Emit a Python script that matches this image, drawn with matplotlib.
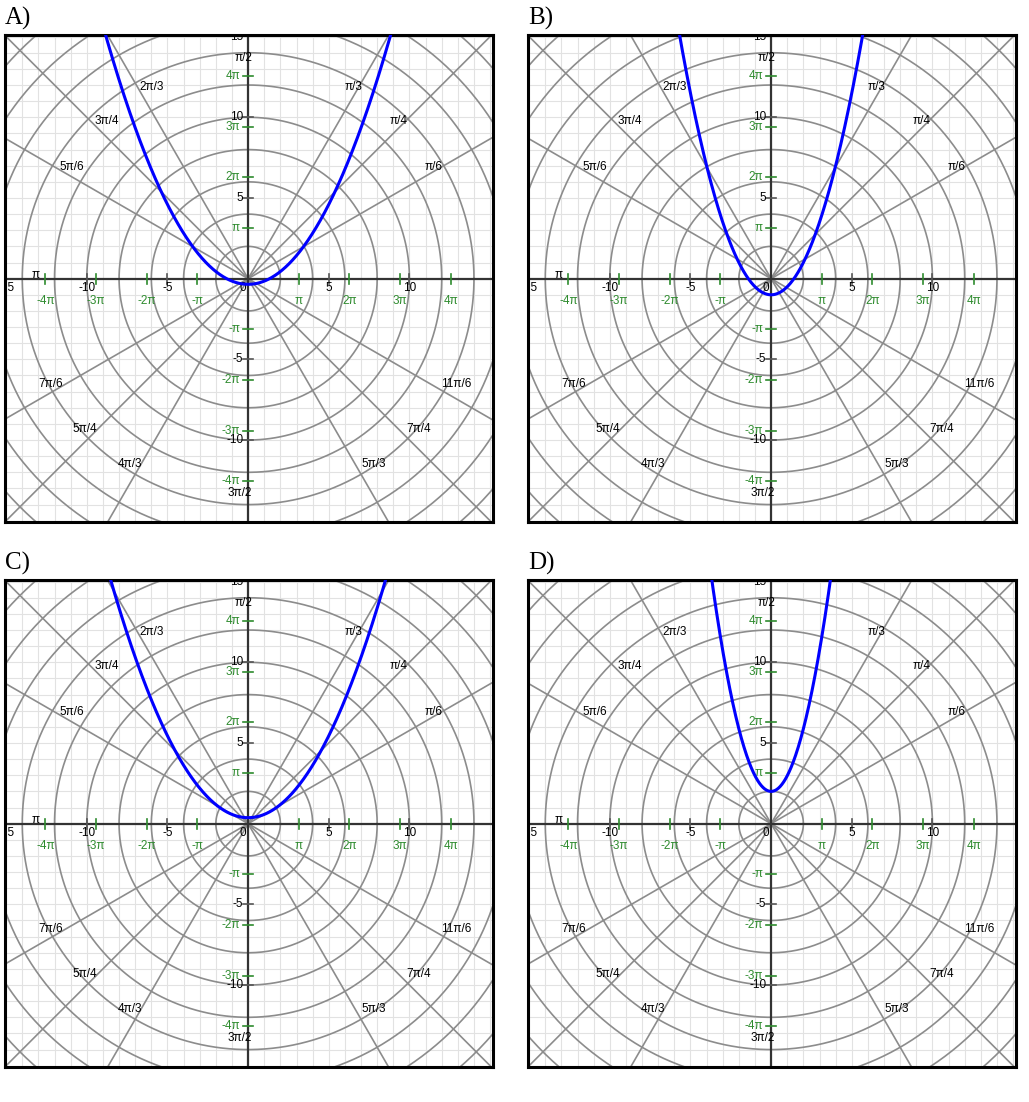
import numpy as np
import matplotlib
matplotlib.use("Agg")
import matplotlib.pyplot as plt

plt.rcParams['font.family'] = ['Liberation Sans', 'DejaVu Sans']

# Paneles y parabolas y = a*x^2 + c
panels = ["A)", "B)", "C)", "D)"]
coef_a = [0.198, 0.5, 0.203, 0.97]
coef_c = [-0.35, -1.0, 0.37, 2.0]

# Rejilla polar
radios = [2, 4, 6, 8, 10, 12, 14, 16, 18, 20, 22]
angulos = ["0", "π/6", "π/4", "π/3", "π/2", "2π/3", "3π/4", "5π/6", "π",
           "7π/6", "5π/4", "4π/3", "3π/2", "5π/3", "7π/4", "11π/6"]
angulos_val = [0, 1/6, 1/4, 1/3, 1/2, 2/3, 3/4, 5/6, 1,
               7/6, 5/4, 4/3, 3/2, 5/3, 7/4, 11/6]

# Marcas de los ejes
tick_vals = [-10, -5, 5, 10]
x_labels = [-15, -10, -5, 5, 10]
y_labels = [-10, -5, 5, 10, 15]
pi_k = [-4, -3, -2, -1, 1, 2, 3, 4]
pi_txt = ["-4π", "-3π", "-2π", "-π", "π", "2π", "3π", "4π"]

GREEN = "#2e8b2e"
GRAY = "#8c8c8c"


def polarGrid(ax):
    for x in np.arange(-16, 17):
        ax.axvline(x, color="#e2e2e2", lw=0.8, zorder=0)
        ax.axhline(x, color="#e2e2e2", lw=0.8, zorder=0)
    t = np.linspace(0, 2 * np.pi, 400)
    for r in radios:
        ax.plot(r * np.cos(t), r * np.sin(t), color=GRAY, lw=1.2, zorder=1)
    for v in angulos_val:
        th = v * np.pi
        ax.plot([0, 25 * np.cos(th)], [0, 25 * np.sin(th)], color=GRAY, lw=1.2, zorder=1)
    ax.axhline(0, color="#333333", lw=1.6, zorder=2)
    ax.axvline(0, color="#333333", lw=1.6, zorder=2)


def angleLabels(ax):
    R = 13.5
    for txt, v in zip(angulos, angulos_val):
        if v == 0:
            continue
        th = v * np.pi
        x, y = R * np.cos(th), R * np.sin(th) + 0.2
        if v == 0.5:
            ha, x = "center", x - 0.3
        elif v == 1:
            ha, x = "center", x + 0.3
        elif v == 1.5:
            ha, x = "center", x - 0.5
        elif v < 0.5:
            ha, x = "center", x - 0.2
        elif v < 1:
            ha = "left"
        elif v < 1.5:
            ha, x = "right", x + 0.2
        else:
            ha, x = "left", x + 0.25
        ax.text(x, y, txt, ha=ha, va="center", fontsize=8.5, color="black",
                zorder=4, clip_on=True)


def axisTicks(ax):
    d = 0.31
    for v in tick_vals:
        ax.plot([v, v], [-d, d], color="#555555", lw=1.2, zorder=3)
        ax.plot([-d, d], [v, v], color="#555555", lw=1.2, zorder=3)
    for v in x_labels:
        ax.text(v, -0.55, str(v), ha="center", va="center", fontsize=8.5,
                color="black", zorder=4, clip_on=True)
    for v in y_labels:
        ax.text(-0.3, v, str(v), ha="right", va="center", fontsize=8.5,
                color="black", zorder=4, clip_on=True)
    ax.text(-0.35, -0.55, "0", ha="center", va="center", fontsize=8.5,
            color="black", zorder=2, clip_on=True)
    for k, txt in zip(pi_k, pi_txt):
        v = k * np.pi
        ax.plot([v, v], [-d, d], color=GREEN, lw=1.2, zorder=3)
        ax.plot([-d, d], [v, v], color=GREEN, lw=1.2, zorder=3)
        ax.text(v, -1.4, txt, ha="center", va="center", fontsize=8.5,
                color=GREEN, zorder=4, clip_on=True)
        ax.text(-0.5, v, txt, ha="right", va="center", fontsize=8.5,
                color=GREEN, zorder=4, clip_on=True)


W, H = 1029, 1102
fig = plt.figure(figsize=(W / 100, H / 100), dpi=100)
lefts = [5, 528, 5, 528]
bottoms = [522, 522, 1067, 1067]

x = np.linspace(-16, 16, 1201)
for i in range(4):
    ax = fig.add_axes([lefts[i] / W, 1 - bottoms[i] / H, 488 / W, 487 / H])
    polarGrid(ax)
    angleLabels(ax)
    axisTicks(ax)
    ax.plot(x, coef_a[i] * x ** 2 + coef_c[i], color="#0000ff", lw=2.2, zorder=5)
    ax.set_xlim(-15.07, 15.18)
    ax.set_ylim(-15.08, 15.1)
    ax.set_xticks([])
    ax.set_yticks([])
    for s in ax.spines.values():
        s.set_linewidth(2.2)
        s.set_color("black")
    fig.text(lefts[i] / W, 1 - (bottoms[i] - 487 - 17) / H, panels[i],
             fontsize=18, family="Liberation Serif", ha="left", va="center")

fig.savefig("out.png", dpi=100)
